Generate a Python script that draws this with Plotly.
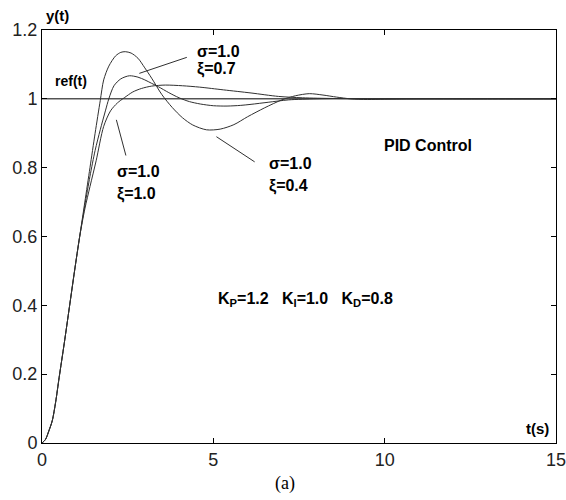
import plotly.graph_objects as go

# Step responses of the PID-controlled loop (sigma = 1.0) for three damping ratios
t_xi04 = [0, 0.1, 0.2, 0.3, 0.4, 0.5, 0.65, 0.8, 0.95, 1.1, 1.25, 1.4, 1.55, 1.7, 1.8, 1.95,
          2.15, 2.3, 2.43, 2.6, 2.8, 3.0, 3.2, 3.5, 3.8, 4.1, 4.4, 4.8, 5.2, 5.6, 6.0, 6.5,
          7.0, 7.4, 7.8, 8.2, 8.6, 9.0, 9.5, 10, 11, 12, 13, 15]
y_xi04 = [0, 0.01, 0.035, 0.065, 0.12, 0.19, 0.29, 0.395, 0.5, 0.6, 0.7, 0.8, 0.9, 0.995, 1.055, 1.095,
          1.125, 1.135, 1.137, 1.133, 1.118, 1.09, 1.06, 1.012, 0.975, 0.945, 0.924, 0.91, 0.912, 0.925, 0.948, 0.974,
          0.997, 1.009, 1.015, 1.011, 1.005, 1.0, 0.998, 0.999, 1.0, 1.0, 1.0, 1.0]

t_xi07 = [0, 0.1, 0.2, 0.3, 0.4, 0.5, 0.65, 0.8, 0.95, 1.1, 1.25, 1.4, 1.55, 1.7, 1.85, 1.95,
          2.1, 2.3, 2.55, 2.8, 3.0, 3.2, 3.4, 3.7, 4.0, 4.3, 4.62, 5.0, 5.4, 5.8, 6.1, 6.6,
          7.2, 8.0, 8.8, 9.5, 11, 13, 15]
y_xi07 = [0, 0.01, 0.035, 0.065, 0.12, 0.19, 0.29, 0.395, 0.5, 0.6, 0.69, 0.775, 0.85, 0.91, 0.965, 1.0,
          1.038, 1.058, 1.067, 1.063, 1.055, 1.045, 1.035, 1.018, 1.003, 0.992, 0.985, 0.98, 0.979, 0.981, 0.984, 0.99,
          0.997, 1.0, 1.001, 1.0, 1.0, 1.0, 1.0]

t_xi10 = [0, 0.1, 0.2, 0.3, 0.4, 0.5, 0.65, 0.8, 0.95, 1.1, 1.25, 1.4, 1.58, 1.8, 2.0, 2.2,
          2.4, 2.65, 2.9, 3.2, 3.6, 4.1, 4.6, 5.3, 6.1, 6.9, 7.6, 8.5, 9.5, 11, 13, 15]
y_xi10 = [0, 0.01, 0.035, 0.065, 0.12, 0.19, 0.29, 0.395, 0.5, 0.6, 0.68, 0.745, 0.82, 0.92, 0.965, 0.988,
          1.003, 1.02, 1.03, 1.037, 1.04, 1.038, 1.034, 1.026, 1.017, 1.007, 1.003, 1.001, 1.0, 1.0, 1.0, 1.0]

# reference input
t_ref = [0, 15]
y_ref = [1, 1]

x_ticks = [0, 5, 10, 15]
y_ticks = [0, 0.2, 0.4, 0.6, 0.8, 1.0, 1.2]
y_tick_text = ["0", "0.2", "0.4", "0.6", "0.8", "1", "1.2"]

curve_color = "#303030"
fig = go.Figure()
fig.add_trace(go.Scatter(x=t_ref, y=y_ref, mode="lines",
                         line=dict(color="black", width=1)))
for tt, yy in [(t_xi10, y_xi10), (t_xi07, y_xi07), (t_xi04, y_xi04)]:
    fig.add_trace(go.Scatter(x=tt, y=yy, mode="lines",
                             line=dict(color=curve_color, width=1, shape="spline", smoothing=0.8)))

label_font = dict(family="Liberation Sans", size=16, color="black")
bold = lambda s: "<b>" + s + "</b>"

annotations = []


def text(x, y, s, xanchor="left", xref="x", yref="y", font=label_font):
    annotations.append(dict(x=x, y=y, xref=xref, yref=yref, text=s, showarrow=False,
                            xanchor=xanchor, yanchor="middle", font=font))


def pointer(x0, y0, x1, y1):
    annotations.append(dict(x=x1, y=y1, ax=x0, ay=y0, xref="x", yref="y", axref="x", ayref="y",
                            text="", showarrow=True, arrowhead=0, arrowwidth=1, arrowcolor="#303030"))


# curve labels
text(4.47, 1.137, bold("σ=1.0"))
text(4.47, 1.087, bold("ξ=0.7"))
pointer(4.27, 1.122, 2.84, 1.074)

text(2.14, 0.788, bold("σ=1.0"))
text(2.14, 0.724, bold("ξ=1.0"))
pointer(2.46, 0.831, 2.17, 0.939)

text(6.57, 0.811, bold("σ=1.0"))
text(6.57, 0.747, bold("ξ=0.4"))
pointer(6.25, 0.814, 5.09, 0.89)

text(9.93, 0.863, bold("PID Control"))
text(5.09, 0.416, bold("K<sub>P</sub>=1.2   K<sub>I</sub>=1.0   K<sub>D</sub>=0.8"))
text(0.86, 1.052, bold("ref(t)"), xanchor="center", font=dict(family="Liberation Sans", size=14, color="black"))
text(14.86, 0.041, bold("t(s)"), xanchor="right", font=dict(family="Liberation Sans", size=15, color="black"))
text(0.003, 1.034, bold("y(t)"), xref="paper", yref="paper",
     font=dict(family="Liberation Sans", size=15, color="black"))
text(0.473, -0.099, "(a)", xanchor="center", xref="paper", yref="paper",
     font=dict(family="Liberation Serif", size=18, color="black"))

axis_common = dict(showline=True, linecolor="black", linewidth=1, mirror="allticks",
                   ticks="inside", ticklen=5, tickcolor="black", showgrid=False, zeroline=False,
                   ticklabeloverflow="allow", automargin=False,
                   tickfont=dict(family="Liberation Sans", size=18, color="#222"))

fig.update_layout(
    width=566, height=500,
    margin=dict(l=41.5, r=10, t=30, b=57),
    paper_bgcolor="white", plot_bgcolor="white",
    showlegend=False,
    annotations=annotations,
    xaxis=dict(range=[0, 15], tickvals=x_ticks, ticktext=[str(v) for v in x_ticks], **axis_common),
    yaxis=dict(range=[0, 1.2], tickvals=y_ticks, ticktext=y_tick_text, **axis_common),
)

fig.write_html("out.html")
